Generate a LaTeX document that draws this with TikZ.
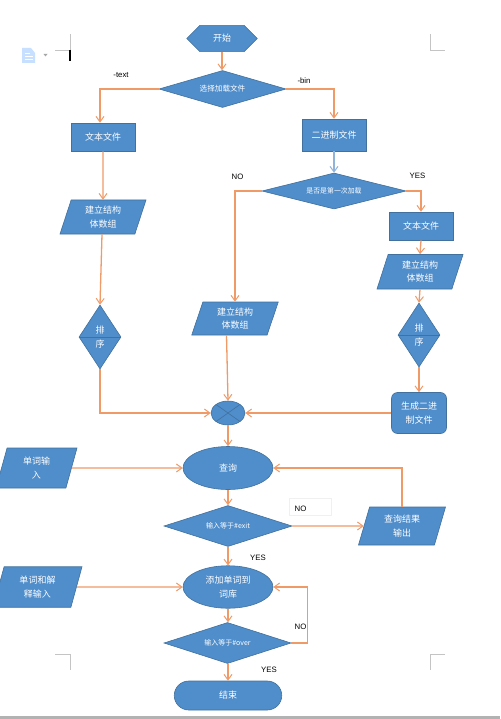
\documentclass[tikz,border=0pt]{standalone}
\usepackage{fontspec}
\setmainfont{Liberation Sans}
\newfontfamily\cjk{Noto Sans CJK SC}
\usetikzlibrary{shapes.geometric,shapes.misc,arrows.meta}
\definecolor{boxfill}{HTML}{4F8DCB}
\definecolor{boxline}{HTML}{41719C}
\definecolor{wire}{HTML}{F09A68}
\definecolor{wireblue}{HTML}{8FB4DC}
\definecolor{markgray}{HTML}{C4C4C4}
\tikzset{
  x=1pt,y=-1pt,
  flow/.style={draw=boxline,fill=boxfill,line width=0.6pt,text=white,inner sep=0pt,align=center,font=\cjk\fontsize{9}{13.5}\selectfont},
  rectbox/.style={flow,rectangle},
  dia/.style={flow,diamond},
  ell/.style={flow,ellipse},
  para/.style={flow,trapezium,trapezium left angle=63,trapezium right angle=117,trapezium stretches body=true},
  wirearrow/.style={draw=wire,line width=1.3pt,-{Straight Barb[length=5.5pt,width=8pt,line width=1pt]}},
  lab/.style={font=\fontsize{7.8}{9}\selectfont,inner sep=0pt,text=black},
  corner/.style={draw=markgray,line width=0.9pt},
}
\begin{document}
\begin{tikzpicture}
\useasboundingbox (0,0) rectangle (500,719);
\fill[white] (0,0) rectangle (500,719);
\fill[fill=black!30] (0,716) rectangle (500,719);

% page corner marks
\draw[corner] (70,34) -- (70,50) -- (55,50);
\draw[corner] (430,34) -- (430,50) -- (445,50);
\draw[corner] (55,654) -- (70,654) -- (70,670);
\draw[corner] (445,654) -- (430,654) -- (430,670);
\draw[black,line width=1.2pt] (70,50) -- (70,61);

% document icon
\fill[blue!55!cyan!22] (22,48) -- (31,48) -- (35,53) -- (35,63) -- (22,63) -- cycle;
\draw[white,line width=0.6pt] (25,53) -- (30,53) (25,56) -- (33,56) (25,59) -- (33,59);
\fill[black!35] (43.5,54) -- (47.5,54) -- (45.5,56.5) -- cycle;

% faint label box
\draw[black!6,line width=0.6pt] (289,498) rectangle (331,515);

% nodes
\node[flow,chamfered rectangle,chamfered rectangle xsep=14pt,chamfered rectangle ysep=9.5pt,minimum width=70.5pt,minimum height=19pt] (start) at (222,38.5) {开始};
\node[dia,aspect=3.43,minimum width=127pt,minimum height=37pt,font=\cjk\fontsize{7.6}{9}\selectfont] (load) at (222.5,89) {选择加载文件};
\node[rectbox,minimum width=64pt,minimum height=28pt] (text1) at (103,137) {文本文件};
\node[rectbox,minimum width=64pt,minimum height=32pt] (bin) at (334,135) {二进制文件};
\node[para,minimum width=86pt,minimum height=34pt] (arr1) at (103,217) {建立结构\\体数组};
\node[dia,aspect=4,minimum width=144pt,minimum height=36pt,font=\cjk\fontsize{6.9}{9}\selectfont] (first) at (334,191) {是否是第一次加载};
\node[rectbox,minimum width=64pt,minimum height=28pt] (text2) at (421,226) {文本文件};
\node[para,minimum width=86pt,minimum height=34.5pt] (arr3) at (420,271.75) {建立结构\\体数组};
\node[dia,aspect=0.656,minimum width=42pt,minimum height=64pt] (sort1) at (100,337) {排\\序};
\node[para,minimum width=86.5pt,minimum height=33pt] (arr2) at (235,318.5) {建立结构\\体数组};
\node[dia,aspect=0.656,minimum width=42pt,minimum height=64pt] (sort2) at (419,335) {排\\序};
\node[rectbox,rounded corners=6pt,minimum width=55pt,minimum height=41pt] (gen) at (419,413) {生成二进\\制文件};
\node[flow,ellipse,minimum width=34pt,minimum height=24pt] (join) at (228,413) {};
\node[ell,minimum width=90pt,minimum height=43pt] (query) at (228,468) {查询};
\node[para,minimum width=81pt,minimum height=40pt] (wordin) at (36.5,468) {单词输\\入};
\node[dia,aspect=3.12,minimum width=128pt,minimum height=41pt,font=\cjk\fontsize{7}{9}\selectfont] (exit) at (228,526) {输入等于\#exit};
\node[para,minimum width=87pt,minimum height=38pt] (result) at (402,526) {查询结果\\输出};
\node[ell,minimum width=90pt,minimum height=42.5pt] (add) at (228,587) {添加单词到\\词库};
\node[para,minimum width=89pt,minimum height=40.5pt] (wordex) at (37.5,587) {单词和解\\释输入};
\node[dia,aspect=3.1,minimum width=127pt,minimum height=41pt,font=\cjk\fontsize{7}{9}\selectfont] (over) at (227.5,643) {输入等于\#over};
\node[rectbox,rounded corners=14.5pt,minimum width=107.5pt,minimum height=29pt] (end) at (228,695.5) {结束};

% inner lines
\draw[boxline,line width=0.6pt] (sort1.west) -- (sort1.east);
\draw[boxline,line width=0.6pt] (sort2.west) -- (sort2.east);
\draw[boxline,line width=0.6pt] (join.north west) -- (join.south east) (join.north east) -- (join.south west);

% labels
\node[lab] (l1) at (121,75.5) {-text};
\node[lab] (l2) at (304,80.5) {-bin};
\node[lab] (l3) at (237.5,176.5) {NO};
\node[lab] (l4) at (417.5,175.5) {YES};
\node[lab] (l5) at (300.5,508.5) {NO};
\node[lab] (l6) at (258,557.5) {YES};
\node[lab] (l7) at (300.5,627) {NO};
\node[lab] (l8) at (269,670) {YES};

% connectors
\draw[wirearrow] (start.south) -- (load.north -| start.south);
\draw[wirearrow] (load.west) -| ([xshift=-3pt]text1.north);
\draw[wirearrow] (load.east) -| (bin.north);
\draw[wirearrow] (text1.south) -- (arr1.north);
\draw[wirearrow] ([xshift=-1pt]arr1.south) -- (sort1.north);
\draw[wirearrow] (sort1.south) |- (join.west);
\draw[wirearrow,draw=wireblue] (bin.south) -- (first.north);
\draw[wirearrow] (first.west) -| (arr2.north);
\draw[wirearrow] (first.east) -| (text2.north);
\draw[wirearrow] (text2.south) -- (arr3.north);
\draw[wirearrow] (arr3.south) -- (sort2.north);
\draw[wirearrow] (sort2.south) -- (gen.north);
\draw[wirearrow] (gen.west) -- (join.east);
\draw[wirearrow] ([xshift=-8.5pt]arr2.south) -- (join.north);
\draw[wirearrow] (join.south) -- (query.north);
\draw[wirearrow] (wordin.east) -- (query.west);
\draw[wirearrow] (query.south) -- (exit.north);
\draw[wirearrow] (exit.east) -- (result.west);
\draw[wirearrow] (result.north) |- (query.east);
\draw[wirearrow] (exit.south) -- (add.north);
\draw[wirearrow] (wordex.east) -- (add.west);
\draw[wirearrow] (add.south) -- (over.north -| add.south);
\draw[wirearrow] (over.east) -- ++(16,0) |- (add.east);
\draw[wirearrow] (over.south -| end.north) -- (end.north);
\end{tikzpicture}
\end{document}
